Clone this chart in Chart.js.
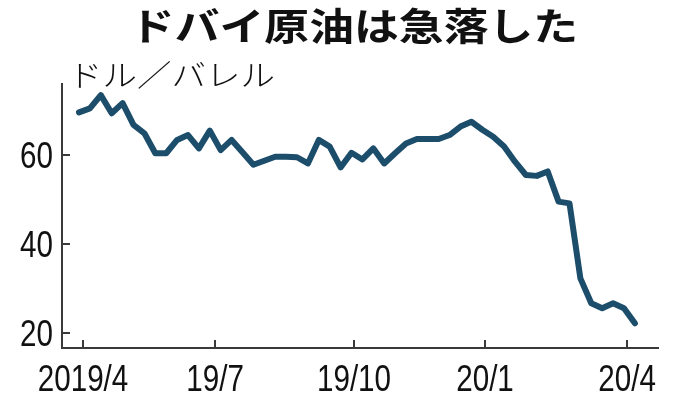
<!DOCTYPE html>
<html>
<head>
<meta charset="utf-8">
<script src="https://cdn.jsdelivr.net/npm/chart.js@4"></script>
<style>
html,body{margin:0;padding:0;background:#fff;}
#wrap{width:680px;height:417px;position:relative;}
</style>
</head>
<body>
<div id="wrap"><canvas id="c" width="680" height="417"></canvas></div>
<script>
// ---- data ----
const titleText = 'ドバイ原油は急落した';
const unitText = 'ドル／バレル';
// weekly Dubai crude price (USD/bbl)
const prices = [69.7, 70.6, 73.6, 69.5, 71.8, 66.9, 65.0, 60.5, 60.5, 63.5,
  64.6, 61.6, 65.6, 61.2, 63.5, 60.7, 57.9, 58.8, 59.7, 59.7,
  59.6, 58.2, 63.5, 62.0, 57.3, 60.6, 59.1, 61.6, 58.2, 60.5,
  62.7, 63.7, 63.7, 63.7, 64.6, 66.5, 67.6, 65.8, 64.2, 62.0,
  58.6, 55.6, 55.4, 56.4, 49.6, 49.2, 32.3, 26.7, 25.6, 26.7,
  25.6, 22.2];
const xTickLabels = ['2019/4', '19/7', '19/10', '20/1', '20/4'];
const xTickAt = [0.37, 12.48, 25.23, 37.25, 50.28]; // in week-index units
const yTickValues = [20, 40, 60];

const LINE = '#1c4d6b';
const AXIS = '#3a3a3a';
const NUMFONT = "'Liberation Sans', Arial, sans-serif";
const JPFONT = "'Noto Sans CJK JP', 'Noto Sans', sans-serif";

const points = prices.map((v, i) => ({x: i, y: v}));

function narrowText(ctx, text, x, y, align, sx) {
  ctx.save();
  ctx.translate(x, y);
  ctx.scale(sx, 1);
  ctx.textAlign = align;
  ctx.fillText(text, 0, 0);
  ctx.restore();
}

const decor = {
  id: 'decor',
  afterDraw(chart) {
    const ctx = chart.ctx;
    const xs = chart.scales.x, ys = chart.scales.y;
    const area = chart.chartArea;
    ctx.save();
    ctx.strokeStyle = AXIS;
    ctx.lineWidth = 2;
    // inward ticks on x axis
    xTickAt.forEach(v => {
      const px = Math.round(xs.getPixelForValue(v));
      ctx.beginPath();
      ctx.moveTo(px, area.bottom);
      ctx.lineTo(px, area.bottom - 8);
      ctx.stroke();
    });
    // inward ticks on y axis
    yTickValues.forEach(v => {
      const py = Math.round(ys.getPixelForValue(v));
      ctx.beginPath();
      ctx.moveTo(area.left, py);
      ctx.lineTo(area.left + 8, py);
      ctx.stroke();
    });
    ctx.restore();

    // tick labels (narrow numerals)
    ctx.save();
    ctx.fillStyle = '#111';
    ctx.textBaseline = 'alphabetic';
    ctx.font = '37px ' + NUMFONT;
    xTickAt.forEach((v, i) => {
      narrowText(ctx, xTickLabels[i], xs.getPixelForValue(v), area.bottom + 43, 'center', 0.8);
    });
    yTickValues.forEach(v => {
      narrowText(ctx, String(v), area.left - 9, ys.getPixelForValue(v) + 13, 'right', 0.8);
    });
    ctx.restore();

    // title
    ctx.save();
    ctx.fillStyle = '#111';
    ctx.textBaseline = 'middle';
    ctx.textAlign = 'center';
    ctx.font = 'bold 38px ' + JPFONT;
    ctx.translate(354, 26);
    ctx.scale(1.18, 1);
    ctx.fillText(titleText, 0, 0);
    ctx.restore();

    // unit label
    ctx.save();
    ctx.fillStyle = '#111';
    ctx.textBaseline = 'middle';
    ctx.textAlign = 'left';
    ctx.font = '300 30px ' + JPFONT;
    ctx.translate(68, 75);
    ctx.scale(1.15, 1);
    ctx.fillText(unitText, 0, 0);
    ctx.restore();
  }
};

new Chart(document.getElementById('c'), {
  type: 'line',
  data: {
    datasets: [{
      data: points,
      borderColor: LINE,
      borderWidth: 6,
      pointRadius: 0,
      tension: 0,
      fill: false,
      borderJoinStyle: 'round',
      borderCapStyle: 'round'
    }]
  },
  options: {
    responsive: false,
    animation: false,
    events: [],
    layout: { padding: { top: 84, right: 22, left: 0, bottom: 0 } },
    plugins: { legend: { display: false }, tooltip: { enabled: false }, title: { display: false } },
    scales: {
      x: {
        type: 'linear',
        min: -1.56,
        max: 53.12,
        afterBuildTicks(scale) { scale.ticks = xTickAt.map(v => ({ value: v })); },
        afterFit(scale) { scale.height = 69; },
        grid: { display: true, drawOnChartArea: false, drawTicks: false },
        border: { display: true, color: AXIS, width: 2 },
        ticks: { display: false }
      },
      y: {
        type: 'linear',
        min: 16.62,
        max: 76.1,
        afterBuildTicks(scale) { scale.ticks = yTickValues.map(v => ({ value: v })); },
        afterFit(scale) { scale.width = 62; },
        grid: { display: true, drawOnChartArea: false, drawTicks: false },
        border: { display: true, color: AXIS, width: 2 },
        ticks: { display: false }
      }
    }
  },
  plugins: [decor]
});
</script>
</body>
</html>
